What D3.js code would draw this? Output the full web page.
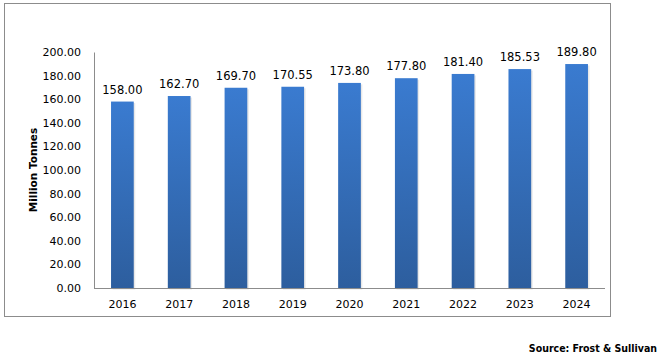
<!DOCTYPE html>
<html><head><meta charset="utf-8">
<script src="https://cdn.jsdelivr.net/npm/d3@7"></script>
<style>body{margin:0;background:#fff}svg{display:block}</style>
</head><body>
<svg id="c" width="659" height="355"></svg>
<script>
const years = ["2016","2017","2018","2019","2020","2021","2022","2023","2024"];
const values = [158.00,162.70,169.70,170.55,173.80,177.80,181.40,185.53,189.80];
const yTicks = [0,20,40,60,80,100,120,140,160,180,200];
const yTitle = "Million Tonnes";
const source = "Source: Frost & Sullivan";

const svg = d3.select("#c");
const defs = svg.append("defs");
const g = defs.append("linearGradient").attr("id","bg").attr("x1",0).attr("y1",0).attr("x2",0).attr("y2",1);
g.append("stop").attr("offset","0%").attr("stop-color","#3a7bd0");
g.append("stop").attr("offset","100%").attr("stop-color","#2d5e9e");

svg.append("rect").attr("x",4.5).attr("y",3.5).attr("width",606).attr("height",313)
  .attr("fill","none").attr("stroke","#8c8c8c").attr("stroke-width",1);

const x = d3.scaleBand().domain(years).range([94,605]).paddingInner(0.6).paddingOuter(0.3);
const y = d3.scaleLinear().domain([0,200]).range([288,52]);

svg.append("g").selectAll("rect").data(values).join("rect")
  .attr("x",(d,i)=>x(years[i])+1.5).attr("y",d=>y(d)+1.5)
  .attr("width",x.bandwidth()).attr("height",d=>y(0)-y(d))
  .attr("fill","#d9d9d9").attr("opacity",0.6);
svg.append("g").selectAll("rect").data(values).join("rect")
  .attr("x",(d,i)=>x(years[i])).attr("y",d=>y(d))
  .attr("width",x.bandwidth()).attr("height",d=>y(0)-y(d))
  .attr("fill","url(#bg)");

const font = "DejaVu Sans, Verdana, sans-serif";
svg.append("g").selectAll("text").data(values).join("text")
  .attr("x",(d,i)=>x(years[i])+x.bandwidth()/2).attr("y",d=>y(d)-8)
  .attr("text-anchor","middle").attr("font-family",font).attr("font-size",11.5).attr("fill","#000")
  .text(d=>d.toFixed(2));

const ya = svg.append("g").attr("transform","translate(94,0)")
  .call(d3.axisLeft(y).tickValues(yTicks).tickSize(0).tickPadding(13).tickFormat(d=>d.toFixed(2)));
ya.select(".domain").attr("stroke","#8c8c8c");
ya.selectAll("text").attr("font-family",font).attr("font-size",11).attr("fill","#000");

const xa = svg.append("g").attr("transform","translate(0,288)")
  .call(d3.axisBottom(x).tickSize(0).tickPadding(12));
xa.select(".domain").attr("stroke","#8c8c8c").attr("d","M94,0.5H605");
xa.selectAll("text").attr("font-family",font).attr("font-size",11).attr("fill","#000");

svg.append("text").attr("transform","translate(37,170) rotate(-90)")
  .attr("text-anchor","middle").attr("font-family",font).attr("font-weight","bold")
  .attr("font-size",10.5).attr("fill","#000").text(yTitle);

svg.append("text").attr("x",657).attr("y",352).attr("text-anchor","end")
  .attr("font-family","DejaVu Sans Condensed, DejaVu Sans, sans-serif").attr("font-weight","bold")
  .attr("font-size",10.5).attr("fill","#000").text(source);
</script>
</body></html>
